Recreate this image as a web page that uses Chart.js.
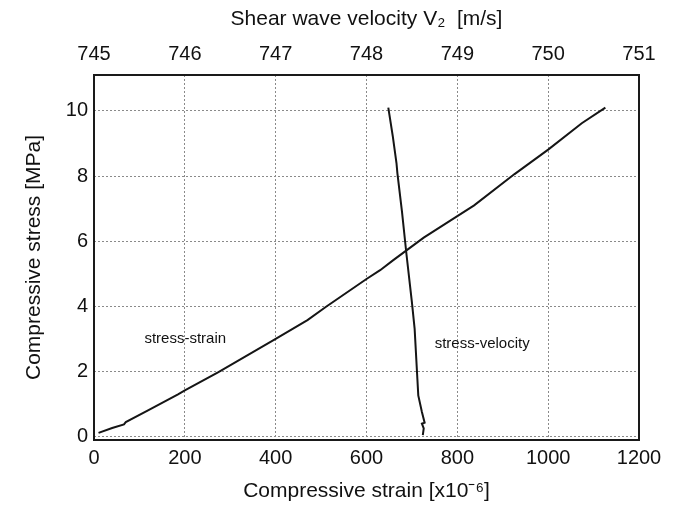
<!DOCTYPE html>
<html lang="en">
<head>
  <meta charset="UTF-8">
  <title>Compressive stress vs strain and shear wave velocity</title>
  <script src="https://cdn.jsdelivr.net/npm/chart.js"></script>
  <style>
    html, body { margin: 0; padding: 0; background: #fff; }
  </style>
</head>
<body>
  <canvas id="myChart" width="677" height="507"></canvas>

  <script>
    // stress-strain curve, read against the bottom axis
    const strain = [10, 40, 66, 70, 120, 185, 200, 274, 400, 470, 511, 600, 630, 659, 726, 800, 837, 926, 1000, 1074, 1126]
    const stressStrain = [0.12, 0.27, 0.38, 0.45, 0.82, 1.30, 1.42, 1.98, 3.00, 3.58, 3.99, 4.84, 5.11, 5.42, 6.11, 6.77, 7.10, 8.06, 8.81, 9.62, 10.10]

    // stress-velocity curve, read against the top axis
    const velocity = [748.62, 748.63, 748.61, 748.64, 748.61, 748.57, 748.56, 748.53, 748.50, 748.44, 748.39, 748.34, 748.33, 748.29, 748.24]
    const stressVelocity = [0.05, 0.26, 0.40, 0.43, 0.76, 1.27, 1.78, 3.31, 4.12, 5.60, 6.92, 8.09, 8.40, 9.21, 10.10]

    const strainTicks = [0, 200, 400, 600, 800, 1000, 1200]
    const velocityTicks = [745, 746, 747, 748, 749, 750, 751]
    const stressTicks = [0, 2, 4, 6, 8, 10]

    const curveLabels = [
      { text: 'stress-strain', x: 111, y: 3.0 },
      { text: 'stress-velocity', x: 750, y: 2.85 }
    ]

    const FONT = 'Liberation Sans, Arial, Helvetica, sans-serif'
    const INK = '#111'

    const toPoints = (xs, ys) => xs.map((x, i) => ({ x: x, y: ys[i] }))
    const plain = v => String(v)

    // frame around the plot + the two in-plot curve names
    const framePlugin = {
      id: 'frame',
      afterDatasetsDraw(chart) {
        const { ctx, chartArea: a, scales } = chart
        ctx.save()
        ctx.strokeStyle = '#1a1a1a'
        ctx.lineWidth = 2
        ctx.strokeRect(a.left, a.top, a.right - a.left, a.bottom - a.top)
        ctx.fillStyle = INK
        ctx.font = '15px ' + FONT
        ctx.textBaseline = 'middle'
        ctx.textAlign = 'left'
        curveLabels.forEach(l => {
          ctx.fillText(l.text, scales.x.getPixelForValue(l.x), scales.y.getPixelForValue(l.y))
        })
        ctx.restore()
      }
    }

    const ctx = document.getElementById('myChart')

    new Chart(ctx, {
      type: 'scatter',
      data: {
        datasets: [{
          label: 'stress-strain',
          data: toPoints(strain, stressStrain),
          xAxisID: 'x',
          yAxisID: 'y',
          showLine: true,
          borderColor: '#151515',
          borderWidth: 2,
          pointRadius: 0,
          tension: 0
        },
        {
          label: 'stress-velocity',
          data: toPoints(velocity, stressVelocity),
          xAxisID: 'x2',
          yAxisID: 'y',
          showLine: true,
          borderColor: '#151515',
          borderWidth: 2,
          pointRadius: 0,
          tension: 0
        }]
      },
      options: {
        responsive: false,
        animation: false,
        devicePixelRatio: 1,
        layout: { padding: { left: 0, right: 38, top: 0, bottom: 0 } },
        plugins: {
          legend: { display: false },
          tooltip: { enabled: false }
        },
        scales: {
          x: {
            type: 'linear',
            position: 'bottom',
            min: 0,
            max: 1200,
            afterBuildTicks: s => { s.ticks = strainTicks.map(v => ({ value: v })) },
            afterFit: s => { s.height = 67 },
            ticks: { color: INK, font: { family: FONT, size: 20 }, padding: 6, callback: plain },
            grid: { color: '#8a8a8a', lineWidth: 1, drawTicks: false },
            border: { display: false, dash: [2, 2] },
            title: {
              display: true,
              text: 'Compressive strain [x10⁻⁶]',
              color: INK,
              font: { family: FONT, size: 21 },
              padding: { top: 0, bottom: 3 }
            }
          },
          x2: {
            type: 'linear',
            position: 'top',
            min: 745,
            max: 751,
            afterBuildTicks: s => { s.ticks = velocityTicks.map(v => ({ value: v })) },
            afterFit: s => { s.height = 75 },
            ticks: { color: INK, font: { family: FONT, size: 20 }, padding: 9, callback: plain },
            grid: { display: false, drawTicks: false },
            border: { display: false },
            title: {
              display: true,
              text: 'Shear wave velocity V₂  [m/s]',
              color: INK,
              font: { family: FONT, size: 21 },
              padding: { top: 7, bottom: 0 }
            }
          },
          y: {
            type: 'linear',
            position: 'left',
            min: -0.1,
            max: 11.1,
            afterBuildTicks: s => { s.ticks = stressTicks.map(v => ({ value: v })) },
            afterFit: s => { s.width = 94 },
            ticks: { color: INK, font: { family: FONT, size: 20 }, padding: 6, callback: plain },
            grid: { color: '#8a8a8a', lineWidth: 1, drawTicks: false },
            border: { display: false, dash: [2, 2] },
            title: {
              display: true,
              text: 'Compressive stress [MPa]',
              color: INK,
              font: { family: FONT, size: 21 },
              padding: { top: 22, bottom: 0 }
            }
          }
        }
      },
      plugins: [framePlugin]
    });
  </script>
</body>
</html>
